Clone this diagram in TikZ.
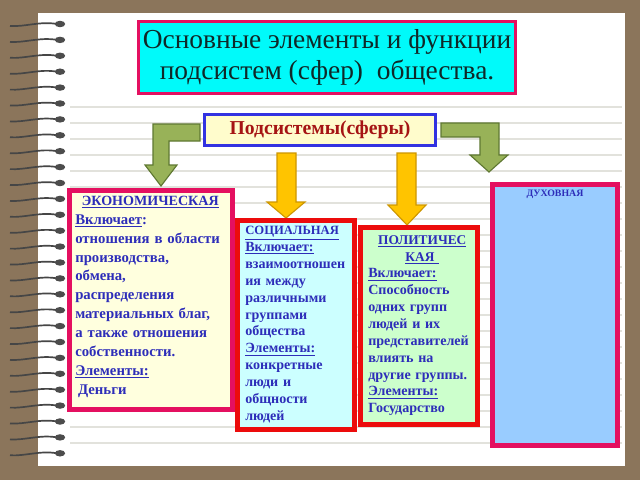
\documentclass[tikz,border=0pt]{standalone}
\usepackage{fontspec}
\setmainfont{Liberation Serif}
\usetikzlibrary{calc}

\definecolor{pagebrown}{RGB}{139,117,91}
\definecolor{rulegray}{RGB}{226,226,220}
\definecolor{crimsonline}{RGB}{228,16,96}
\definecolor{redline}{RGB}{236,12,12}
\definecolor{inkblue}{RGB}{45,45,185}
\definecolor{darkred}{RGB}{165,20,20}
\definecolor{subblue}{RGB}{50,50,225}
\definecolor{titleink}{RGB}{15,40,40}
\definecolor{titlecyan}{RGB}{0,250,250}
\definecolor{olivearrow}{RGB}{152,178,88}
\definecolor{olivedark}{RGB}{95,120,50}
\definecolor{goldarrow}{RGB}{255,196,0}
\definecolor{golddark}{RGB}{205,150,0}

\tikzset{
  sphere/.style={draw, line width=3.6pt, inner sep=0pt},
  spheretext/.style={anchor=north west, inner sep=0pt, align=left, text=inkblue,
    font=\bfseries\fontsize{10.5}{13.4}\selectfont},
  blockarrow/.style={line width=0.8pt, line join=miter},
}

\begin{document}
\begin{tikzpicture}[x=0.025cm, y=-0.025cm]
\useasboundingbox (0,0) rectangle (640,480);
\fill[pagebrown] (0,0) rectangle (640,480);
\fill[white] (38,13) rectangle (625,466);
% ruled lines
\foreach \k in {0,...,21}
  \draw[rulegray, line width=1pt] (70,107+16*\k) -- (622,107+16*\k);
% spiral
\foreach \k in {0,...,27}{
  \pgfmathsetmacro{\ry}{24+15.9*\k}
  \draw[gray!55!black, line width=1.2pt] (57,\ry) .. controls (40,\ry-3) and (25,\ry+3) .. (10,\ry+2);
  \fill[black!70] (60,\ry) ellipse (0.13cm and 0.08cm);
}

\node[draw=crimsonline, line width=2.2pt, fill=titlecyan, minimum width=9.425cm, minimum height=1.8cm,
  align=center, text=titleink, font=\fontsize{19.5}{22.5}\selectfont] (title) at (327,57.5)
  {Основные элементы и функции\\подсистем (сфер)\ \ общества.};
\node[draw=subblue, line width=2.2pt, fill=yellow!20, minimum width=5.775cm, minimum height=0.775cm,
  text=darkred, font=\bfseries\fontsize{14}{16}\selectfont] (sub) at (320,130) {Подсистемы(сферы)};

% arrows
\filldraw[blockarrow, fill=olivearrow, draw=olivedark] (200,124) -- (153,124) -- (153,165) -- (145,165)
  -- (161,186) -- (177,165) -- (169,165) -- (169,141) -- (200,141) -- cycle;
\filldraw[blockarrow, fill=olivearrow, draw=olivedark] (441,123) -- (499,123) -- (499,155) -- (508,155)
  -- (489,172) -- (470,155) -- (480,155) -- (480,137) -- (441,137) -- cycle;
\filldraw[blockarrow, fill=goldarrow, draw=golddark] (277,153) -- (296,153) -- (296,202) -- (305,202)
  -- (286,218) -- (267,202) -- (277,202) -- cycle;
\filldraw[blockarrow, fill=goldarrow, draw=golddark] (397,153) -- (416,153) -- (416,205) -- (426,205)
  -- (407,225) -- (388,205) -- (397,205) -- cycle;

% spheres
\node[sphere, draw=crimsonline, fill={rgb,255:red,255;green,255;blue,222}, minimum width=4.075cm,
  minimum height=5.475cm] (eco) at (151,300) {};
\node[spheretext, text width=3.75cm] (ecotext) at (75,196) {\makebox[\linewidth]{\fontsize{10}{12}\selectfont\underline{ЭКОНОМИЧЕСКАЯ}}\\
  \underline{Включает}:\\
  отношения в области\\
  производства,\\
  обмена,\\
  распределения\\
  материальных благ,\\
  а также отношения\\
  собственности.\\
  \underline{Элементы:}\\
  \hspace{2pt}Деньги};

\node[sphere, draw=redline, fill={rgb,255:red,204;green,255;blue,255}, minimum width=2.925cm,
  minimum height=5.225cm] (soc) at (296,325) {};
\node[spheretext, text width=2.7cm, font=\bfseries\fontsize{10}{12}\selectfont] (soctext) at (245,226)
  {{\fontsize{9}{11}\selectfont\underline{СОЦИАЛЬНАЯ}}\\
  \underline{Включает:}\\
  взаимоотношен\\
  ия между\\
  различными\\
  группами\\
  общества\\
  \underline{Элементы:}\\
  конкретные\\
  люди и\\
  общности\\
  людей};

\node[sphere, draw=redline, fill={rgb,255:red,204;green,255;blue,204}, minimum width=2.925cm,
  minimum height=4.925cm] (pol) at (419,326) {};
\node[spheretext, text width=2.7cm, font=\bfseries\fontsize{10}{12}\selectfont] (poltext) at (368,235)
  {\makebox[\linewidth]{\fontsize{9.5}{11}\selectfont\underline{ПОЛИТИЧЕС}}\\
  \makebox[\linewidth]{\fontsize{9.5}{11}\selectfont\underline{КАЯ\ }}\\
  \underline{Включает:}\\
  Способность\\
  одних групп\\
  людей и их\\
  представителей\\
  влиять на\\
  другие группы.\\
  \underline{Элементы:}\\
  Государство};

\node[sphere, draw=crimsonline, fill={rgb,255:red,153;green,204;blue,255}, minimum width=3.125cm,
  minimum height=6.525cm] (spirit) at (555,315) {};
\node[anchor=north, inner sep=0pt, text=inkblue, font=\bfseries\fontsize{7}{8}\selectfont] (spirittext)
  at ($(spirit.north)+(0,8)$) {ДУХОВНАЯ};
\end{tikzpicture}
\end{document}
